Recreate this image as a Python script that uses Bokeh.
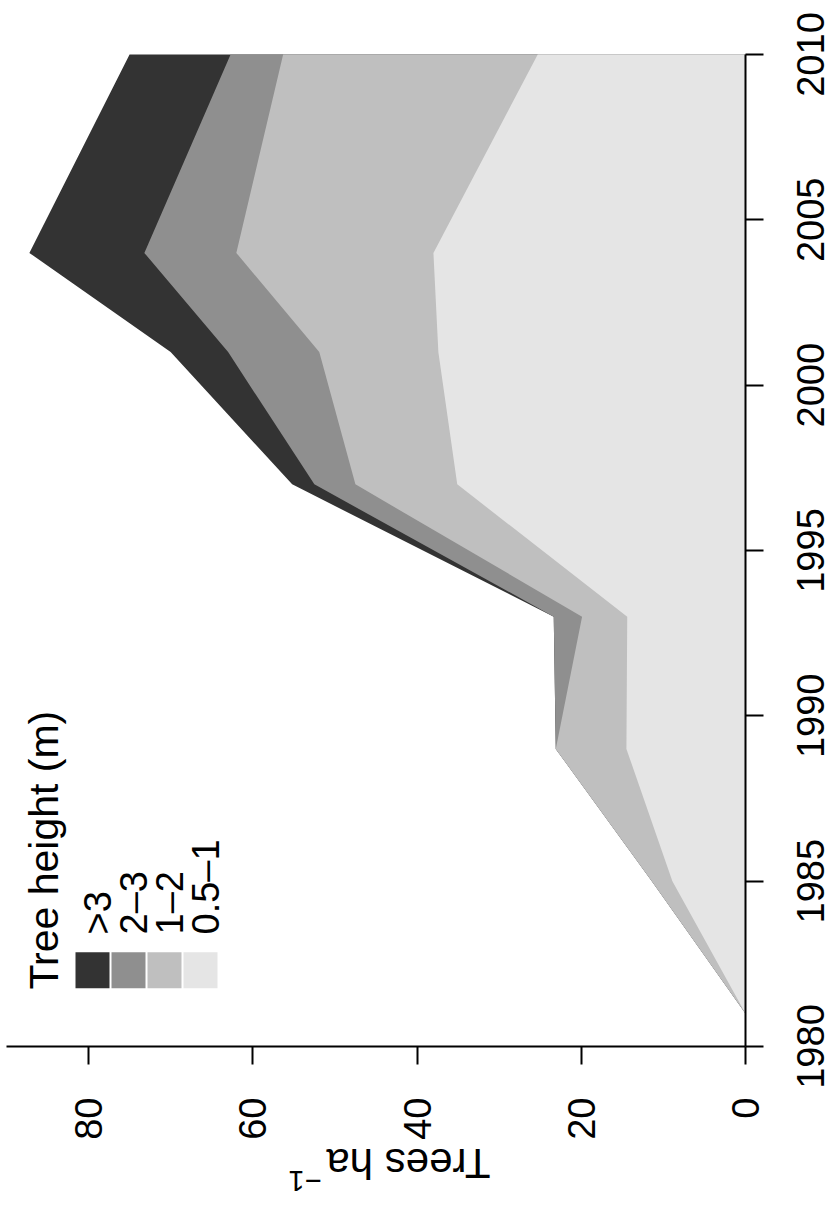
import numpy as np
from math import pi
from bokeh.plotting import figure
from bokeh.models import Range1d, FixedTicker, Label, LinearAxis
from bokeh.embed import file_html
from bokeh.resources import INLINE

# ---------------- data ----------------
years = [1981, 1985, 1989, 1993, 1997, 2001, 2004, 2010]
h_05_1 = [0, 8.9, 14.5, 14.4, 35.1, 37.4, 38.0, 25.3]   # 0.5-1 m
h_1_2 = [0, 2.5, 8.6, 5.5, 12.4, 14.5, 24.0, 31.0]      # 1-2 m
h_2_3 = [0, 0, 0, 3.45, 5.0, 11.1, 11.2, 6.4]           # 2-3 m
h_gt3 = [0, 0, 0, 0, 2.7, 7.0, 14.0, 12.3]              # >3 m
classes = ["0.5\u20131", "1\u20132", "2\u20133", ">3"]
colors = ["#e5e5e5", "#bfbfbf", "#8f8f8f", "#333333"]
value_ticks = [0, 20, 40, 60, 80]
year_ticks = [1980, 1985, 1990, 1995, 2000, 2005, 2010]
legend_title = "Tree height (m)"
axis_title = "Trees ha"
axis_title_sup = "\u22121"

FONT = "Liberation Sans"
VAL_MAX, YEAR_MIN, YEAR_MAX = 90, 1980, 2010

# ---------------- layout (canvas pixels) ----------------
W, H = 833, 1200
ZERO_PX, PX_PER_VAL = 745.0, 8.2125      # x pixel of value 0, pixels per tree/ha
Y2010_PX, PX_PER_YR = 54.0, 992.0 / 30   # y pixel of 2010, pixels per year
BASE_SHIFT = 0.3                           # text baseline correction (em)

x_lo = (ZERO_PX - W) / PX_PER_VAL
x_hi = ZERO_PX / PX_PER_VAL
y_hi = YEAR_MAX + Y2010_PX / PX_PER_YR
y_lo = y_hi - H / PX_PER_YR


def dx(px):
    return (ZERO_PX - px) / PX_PER_VAL


def dy(py):
    return y_hi - py / PX_PER_YR


p = figure(frame_width=W, frame_height=H,
           x_range=Range1d(x_hi, x_lo), y_range=Range1d(y_lo, y_hi),
           x_axis_location=None, y_axis_location=None,
           output_backend="svg", toolbar_location=None,
           min_border=0)
p.grid.visible = False
p.outline_line_color = None
p.background_fill_color = "white"

# stacked bands, drawn as cumulative areas from the largest down
stack = np.cumsum(np.array([h_05_1, h_1_2, h_2_3, h_gt3]), axis=0)
for k in range(3, -1, -1):
    p.harea(y=years, x1=[0] * len(years), x2=list(stack[k]), fill_color=colors[k], fill_alpha=1.0)

xaxis = LinearAxis(fixed_location=YEAR_MIN, bounds=(0, VAL_MAX))
yaxis = LinearAxis(fixed_location=0, bounds=(YEAR_MIN, YEAR_MAX))
for ax, ticks in ((xaxis, value_ticks), (yaxis, year_ticks)):
    ax.ticker = FixedTicker(ticks=ticks)
    ax.minor_tick_line_color = None
    ax.major_tick_in = 0
    ax.major_tick_out = 18
    ax.major_tick_line_width = 2
    ax.axis_line_width = 2
    ax.major_tick_line_color = "black"
    ax.axis_line_color = "black"
    ax.major_label_text_font = FONT
    ax.major_label_text_font_size = "38px"
    ax.major_label_text_color = "black"
xaxis.major_label_orientation = pi / 2
xaxis.major_label_standoff = 33
yaxis.major_label_overrides = {t: "" for t in year_ticks}
p.add_layout(xaxis, "below")
p.add_layout(yaxis, "right")


def rot_label(px, py, text, size, angle, align="left"):
    # px, py: where the text baseline should sit, in canvas pixels
    sh = BASE_SHIFT * size
    if abs(angle - pi / 2) < 1e-6:
        px -= sh
    elif abs(angle - pi) < 1e-6:
        py += sh
    p.add_layout(Label(x=dx(px), y=dy(py), text=text, angle=angle,
                       text_align=align, text_baseline="alphabetic",
                       text_font=FONT, text_font_size=f"{size}px", text_color="black"))


# year tick labels (reading bottom-to-top, centred on the ticks)
for yr in year_ticks:
    py = Y2010_PX + (YEAR_MAX - yr) * PX_PER_YR
    rot_label(821, py, str(yr), 38, pi / 2, align="center")

# axis title (upside down)
rot_label(490, 1150, axis_title, 42, pi)
rot_label(321, 1172, axis_title_sup, 29, pi)

# legend (rotated)
order = [3, 2, 1, 0]
for i, k in enumerate(order):
    left = 75 + 36 * i
    p.quad(left=dx(left), right=dx(left + 34), top=dy(951.7), bottom=dy(987.7),
           fill_color=colors[k], line_color=None)
    rot_label(left + 17 + 16.5, 934, classes[k], 38, pi / 2)
rot_label(56, 989, legend_title, 41, pi / 2)

open("out.html", "w").write(file_html(p, INLINE))
